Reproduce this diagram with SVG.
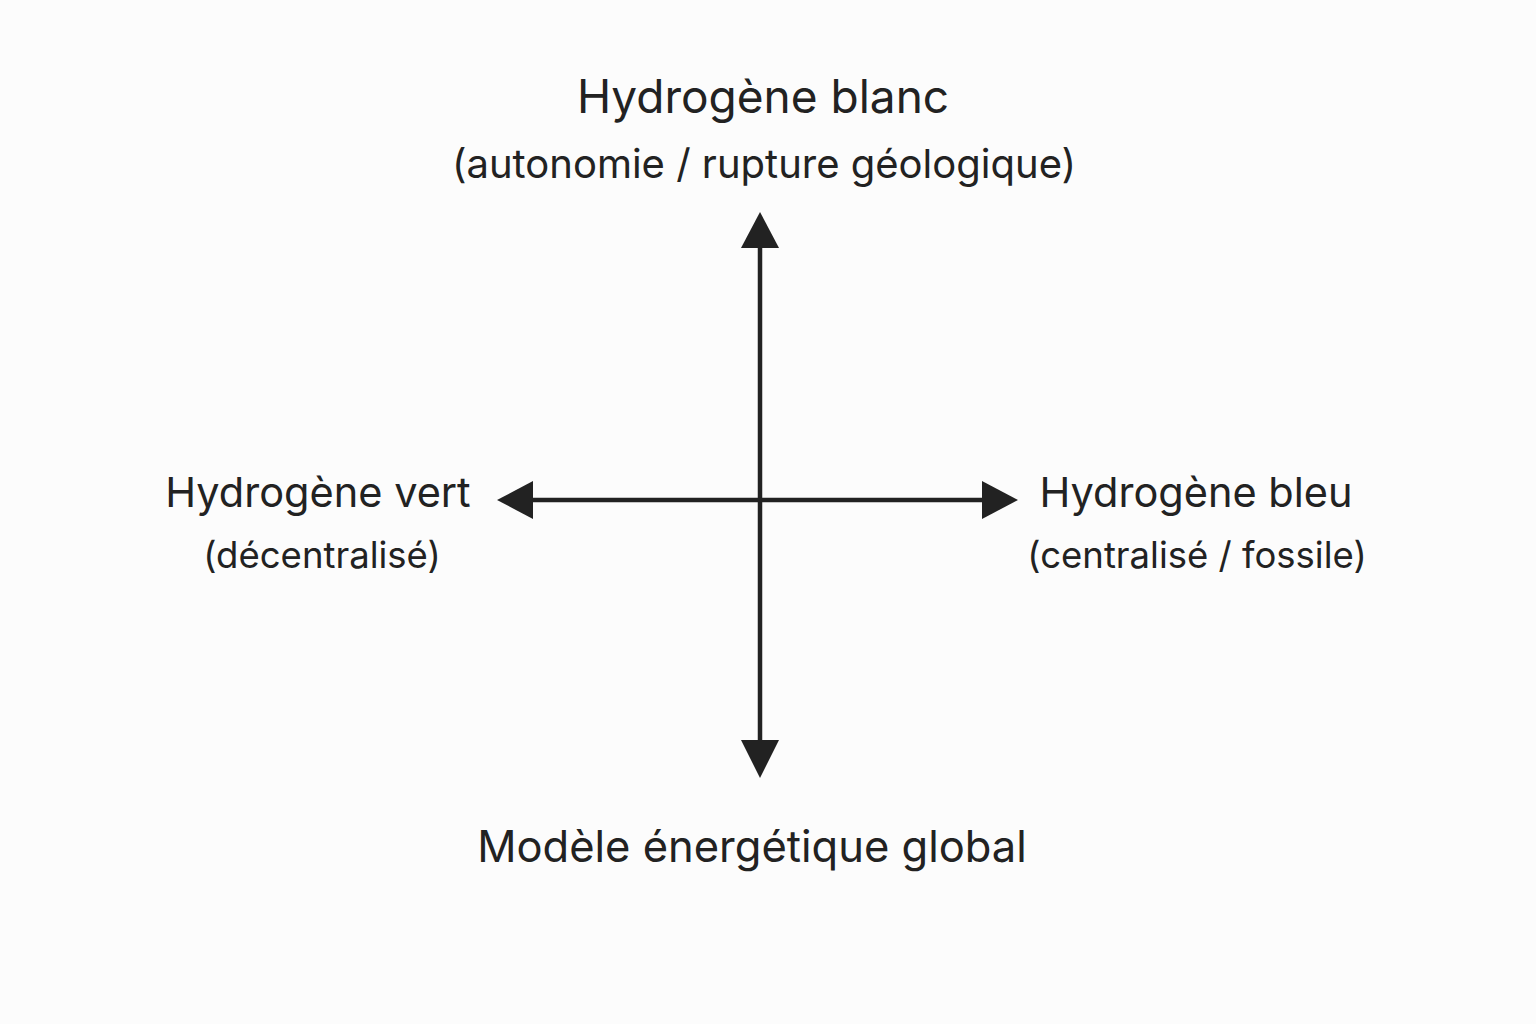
<svg xmlns="http://www.w3.org/2000/svg" width="1536" height="1024" viewBox="0 0 1536 1024">
<style>
text{font-family:Inter,"Noto Sans",sans-serif;fill:#222;text-anchor:middle}
.t{font-size:46px}.s{font-size:40px}.m{font-size:41.5px}.ms{font-size:36.5px}.b{font-size:43.5px}
.ax{stroke:#222;stroke-width:4.5;fill:none}
</style>
<rect width="1536" height="1024" fill="#fcfcfc"/>
<g id="connectors">
<line class="ax" x1="760" y1="245" x2="760" y2="745"/>
<line class="ax" x1="530" y1="500" x2="985" y2="500"/>
<polygon fill="#222" points="760,212 741,248 779,248"/>
<polygon fill="#222" points="760,778 741,740 779,740"/>
<polygon fill="#222" points="497,500 533,481 533,519"/>
<polygon fill="#222" points="1018,500 982,481 982,519"/>
</g>
<g id="top"><text class="t" x="763" y="113">Hydrogène blanc</text><text class="s" x="764" y="178">(autonomie / rupture géologique)</text></g>
<g id="left"><text class="m" x="318" y="507">Hydrogène vert</text><text class="ms" x="322" y="568">(décentralisé)</text></g>
<g id="right"><text class="m" x="1196" y="507">Hydrogène bleu</text><text class="ms" x="1197" y="568">(centralisé / fossile)</text></g>
<g id="bottom"><text class="b" x="752" y="862">Modèle énergétique global</text></g>
</svg>
